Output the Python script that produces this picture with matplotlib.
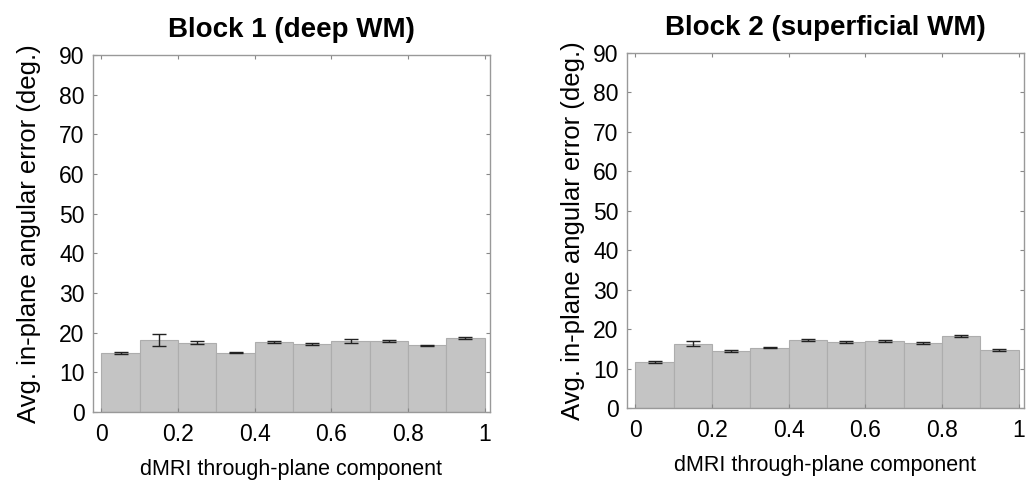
import numpy as np
import matplotlib.pyplot as plt

plt.rcParams['font.family'] = ['Liberation Sans', 'DejaVu Sans']

# bin left edges of the through-plane component
bin_edges = [0.0, 0.1, 0.2, 0.3, 0.4, 0.5, 0.6, 0.7, 0.8, 0.9]

# Block 1 (deep WM)
deep_mean = [14.8, 18.2, 17.5, 15.0, 17.6, 17.1, 17.9, 17.9, 16.8, 18.6]
deep_err = [0.3, 1.5, 0.4, 0.2, 0.2, 0.2, 0.4, 0.2, 0.2, 0.2]

# Block 2 (superficial WM)
sup_mean = [11.6, 16.3, 14.5, 15.3, 17.2, 16.7, 17.0, 16.5, 18.3, 14.7]
sup_err = [0.3, 0.7, 0.2, 0.2, 0.2, 0.2, 0.3, 0.2, 0.2, 0.2]

titles = ['Block 1 (deep WM)', 'Block 2 (superficial WM)']
yticks = [0, 10, 20, 30, 40, 50, 60, 70, 80, 90]
xticks = [0, 0.2, 0.4, 0.6, 0.8, 1]
xticklabels = ['0', '0.2', '0.4', '0.6', '0.8', '1']

fig = plt.figure(figsize=(10.26, 4.83), dpi=100)
# axes boxes in figure fractions (left, bottom, width, height)
boxes = [[93/1026, 1 - 412/483, 397/1026, 357/483],
         [627/1026, 1 - 408/483, 397/1026, 355/483]]
ylab_x = [-0.131, -0.106]

for box, title, mean, err, lx in zip(boxes, titles, [deep_mean, sup_mean],
                                     [deep_err, sup_err], ylab_x):
    ax = fig.add_axes(box)
    centers = np.array(bin_edges) + 0.05
    ax.bar(bin_edges, mean, width=0.1, align='edge', color='#c4c4c4',
           edgecolor='#adadad', linewidth=0.8)
    ax.errorbar(centers, mean, yerr=err, fmt='none', ecolor='#222222',
                elinewidth=1.0, capsize=5, capthick=1.0)
    ax.set_xlim(-0.022, 1.014)
    ax.set_ylim(0, 90)
    ax.set_yticks(yticks)
    ax.set_xticks(xticks)
    ax.set_xticklabels(xticklabels)
    ax.tick_params(direction='in', top=True, right=True, length=3,
                   color='#888888', labelsize=16.5)
    ax.tick_params(axis='x', pad=8)
    ax.tick_params(axis='y', pad=6)
    for s in ax.spines.values():
        s.set_color('#999999')
        s.set_linewidth(1.0)
    ax.set_title(title, fontsize=20, fontweight='bold', pad=13)
    ax.set_xlabel('dMRI through-plane component', fontsize=15.5, labelpad=9)
    ax.set_ylabel('Avg. in-plane angular error (deg.)', fontsize=18.5)
    ax.yaxis.set_label_coords(lx, 0.5)

fig.savefig('out.png', dpi=100)
